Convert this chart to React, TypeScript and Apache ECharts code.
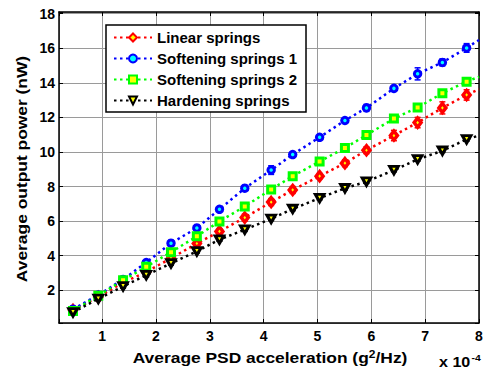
import React, { useEffect, useRef } from "react";
import * as echarts from "echarts";

// x in units of 1e-4 g^2/Hz
const xValues = [0.46, 0.93, 1.39, 1.82, 2.28, 2.76, 3.18, 3.65, 4.14, 4.54, 5.04, 5.51, 5.91, 6.42, 6.86, 7.32, 7.77];
const linear = [0.85, 1.6, 2.45, 3.05, 3.85, 4.7, 5.4, 6.2, 7.1, 7.8, 8.6, 9.35, 10.1, 10.95, 11.7, 12.55, 13.3];
const soft1 = [0.9, 1.72, 2.62, 3.6, 4.72, 5.6, 6.68, 7.9, 8.95, 9.85, 10.85, 11.82, 12.55, 13.68, 14.52, 15.18, 16.02];
const soft2 = [0.8, 1.68, 2.58, 3.35, 4.2, 5.12, 5.98, 6.85, 7.83, 8.6, 9.45, 10.23, 10.98, 11.93, 12.57, 13.4, 14.07];
const hard = [0.72, 1.5, 2.22, 2.87, 3.55, 4.25, 4.93, 5.5, 6.13, 6.7, 7.33, 7.9, 8.28, 8.95, 9.57, 10.07, 10.73];

const linearErr = [0.1, 0.1, 0.1, 0.1, 0.15, 0.15, 0.15, 0.2, 0.2, 0.2, 0.15, 0.2, 0.2, 0.3, 0.3, 0.35, 0.3];
const soft1Err = [0.1, 0.1, 0.1, 0.1, 0.15, 0.1, 0.1, 0.1, 0.25, 0.15, 0.15, 0.15, 0.2, 0.15, 0.35, 0.2, 0.25];
const soft2Err = [0.1, 0.1, 0.1, 0.1, 0.1, 0.1, 0.1, 0.1, 0.1, 0.1, 0.1, 0.1, 0.1, 0.1, 0.15, 0.15, 0.1];
const hardErr = [0.1, 0.1, 0.1, 0.1, 0.1, 0.1, 0.1, 0.1, 0.1, 0.1, 0.1, 0.1, 0.1, 0.1, 0.1, 0.1, 0.1];

// trend lines continue to the right edge (x = 8)
const xEnd = 8;
const endValues = [13.62, 16.48, 14.35, 10.95];

const seriesNames = ["Linear springs", "Softening springs 1", "Softening springs 2", "Hardening springs"];
const xTickLabels = ["1", "2", "3", "4", "5", "6", "7", "8"];
const xAxisTitle = "Average PSD acceleration (g{sup|2}/Hz)";
const yAxisTitle = "Average output power (nW)";
const xScaleNote = "x 10{sup|-4}";

const FONT = "'Liberation Sans', Arial, Helvetica, sans-serif";

export default function App() {
  const ref = useRef<HTMLDivElement>(null);
  useEffect(() => {
    if (!ref.current) return;
    const chart = echarts.init(ref.current, undefined, { renderer: "svg" });

    const defs = [
      { name: seriesNames[0], y: linear, err: linearErr, end: endValues[0], color: "#ff0000", face: "#ffff00", symbol: "diamond", size: [7, 9], bw: 3.5, rotate: 0 },
      { name: seriesNames[1], y: soft1, err: soft1Err, end: endValues[1], color: "#0000ff", face: "#00ffff", symbol: "circle", size: 6.5, bw: 3, rotate: 0 },
      { name: seriesNames[2], y: soft2, err: soft2Err, end: endValues[2], color: "#00ff00", face: "#ffff00", symbol: "rect", size: 7, bw: 3, rotate: 0 },
      { name: seriesNames[3], y: hard, err: hardErr, end: endValues[3], color: "#000000", face: "#ffff00", symbol: "triangle", size: [8.5, 7.5], bw: 3, rotate: 180 },
    ];

    const series: any[] = [];
    defs.forEach((d, k) => {
      series.push({
        name: d.name + " err",
        type: "custom",
        z: 1,
        silent: true,
        data: xValues.map((x, i) => [x, d.y[i], d.err[i]]),
        encode: { x: 0, y: 1 },
        renderItem: (params: any, api: any) => {
          const x = api.value(0);
          const y = api.value(1);
          const e = api.value(2);
          const top = api.coord([x, y + e]);
          const bot = api.coord([x, y - e]);
          const hw = 3;
          const style = { stroke: d.color, lineWidth: 1.5 };
          return {
            type: "group",
            children: [
              { type: "line", shape: { x1: top[0], y1: top[1], x2: bot[0], y2: bot[1] }, style },
              { type: "line", shape: { x1: top[0] - hw, y1: top[1], x2: top[0] + hw, y2: top[1] }, style },
              { type: "line", shape: { x1: bot[0] - hw, y1: bot[1], x2: bot[0] + hw, y2: bot[1] }, style },
            ],
          };
        },
      });
      series.push({
        name: d.name,
        type: "line",
        z: 2 + k,
        symbol: d.symbol,
        symbolSize: d.size,
        symbolRotate: d.rotate,
        showAllSymbol: true,
        lineStyle: { color: d.color, width: 2.5, type: [2.5, 3.5] },
        itemStyle: { color: d.face, borderColor: d.color, borderWidth: d.bw },
        data: [
          ...xValues.map((x, i) => [x, d.y[i]]),
          { value: [xEnd, d.end], symbol: "none" },
        ],
      });
    });

    const tickStyle = { show: true, inside: true, length: 4, lineStyle: { color: "#000", width: 1 } };
    const lineAxis = { show: true, lineStyle: { color: "#000", width: 1.5 } };

    chart.setOption({
      animation: false,
      backgroundColor: "#ffffff",
      textStyle: { fontFamily: FONT },
      grid: { left: 59, right: 10, top: 12, bottom: 49, containLabel: false },
      legend: {
        data: seriesNames,
        orient: "vertical",
        left: 106,
        top: 25,
        padding: [5, 9, 4, 7],
        itemWidth: 38,
        itemHeight: 10,
        itemGap: 6,
        backgroundColor: "#ffffff",
        borderColor: "#000",
        borderWidth: 1.5,
        textStyle: { fontFamily: FONT, fontWeight: "bold", fontSize: 15, color: "#000", lineHeight: 15 },
      },
      xAxis: [
        {
          type: "value",
          min: 0.2,
          max: 8,
          splitNumber: 8,
          axisLine: lineAxis,
          axisTick: tickStyle,
          axisLabel: {
            color: "#000",
            fontWeight: "bold",
            fontSize: 14,
            fontFamily: FONT,
            margin: 6,
            formatter: (v: number) => {
              const idx = xTickLabels.indexOf(String(Math.round(v * 1000) / 1000));
              return idx >= 0 ? xTickLabels[idx] : "";
            },
          },
          splitLine: { show: true, lineStyle: { color: "#9a9a9a", width: 1 } },
        },
        {
          type: "value",
          position: "top",
          min: 0.2,
          max: 8,
          splitNumber: 8,
          axisLine: lineAxis,
          axisTick: tickStyle,
          axisLabel: { show: false },
          splitLine: { show: false },
        },
      ],
      yAxis: [
        {
          type: "value",
          min: 0.1,
          max: 18.1,
          splitNumber: 9,
          axisLine: lineAxis,
          axisTick: tickStyle,
          axisLabel: {
            color: "#000",
            fontWeight: "bold",
            fontSize: 14,
            fontFamily: FONT,
            margin: 4,
            formatter: (v: number) => {
              const r = Math.round(v * 1000) / 1000;
              return Number.isInteger(r) && r % 2 === 0 ? String(r) : "";
            },
          },
          splitLine: { show: true, lineStyle: { color: "#9a9a9a", width: 1 } },
        },
        {
          type: "value",
          position: "right",
          min: 0.1,
          max: 18.1,
          splitNumber: 9,
          axisLine: lineAxis,
          axisTick: tickStyle,
          axisLabel: { show: false },
          splitLine: { show: false },
        },
      ],
      graphic: [
        {
          type: "text",
          x: 270,
          y: 358,
          scaleX: 1.2,
          style: {
            text: xAxisTitle,
            align: "center",
            verticalAlign: "middle",
            fontFamily: FONT,
            fontWeight: "bold",
            fontSize: 14.5,
            fill: "#000",
            rich: { sup: { fontSize: 10, fontWeight: "bold", fontFamily: FONT, verticalAlign: "top", padding: [0, 0, 7, 0] } },
          },
        },
        {
          type: "text",
          x: 22,
          y: 169,
          rotation: Math.PI / 2,
          scaleX: 1.2,
          style: {
            text: yAxisTitle,
            align: "center",
            verticalAlign: "middle",
            fontFamily: FONT,
            fontWeight: "bold",
            fontSize: 14.5,
            fill: "#000",
          },
        },
        {
          type: "text",
          x: 439,
          y: 362,
          scaleX: 1.15,
          style: {
            text: xScaleNote,
            align: "left",
            verticalAlign: "middle",
            fontFamily: FONT,
            fontWeight: "bold",
            fontSize: 14,
            fill: "#000",
            rich: { sup: { fontSize: 9, fontWeight: "bold", fontFamily: FONT, verticalAlign: "top", padding: [0, 0, 8, 1] } },
          },
        },
      ],
      series,
    });

    return () => chart.dispose();
  }, []);

  return (
    <div
      ref={ref}
      style={{ position: "fixed", left: 0, top: 0, width: 489, height: 372, background: "#fff" }}
    />
  );
}
